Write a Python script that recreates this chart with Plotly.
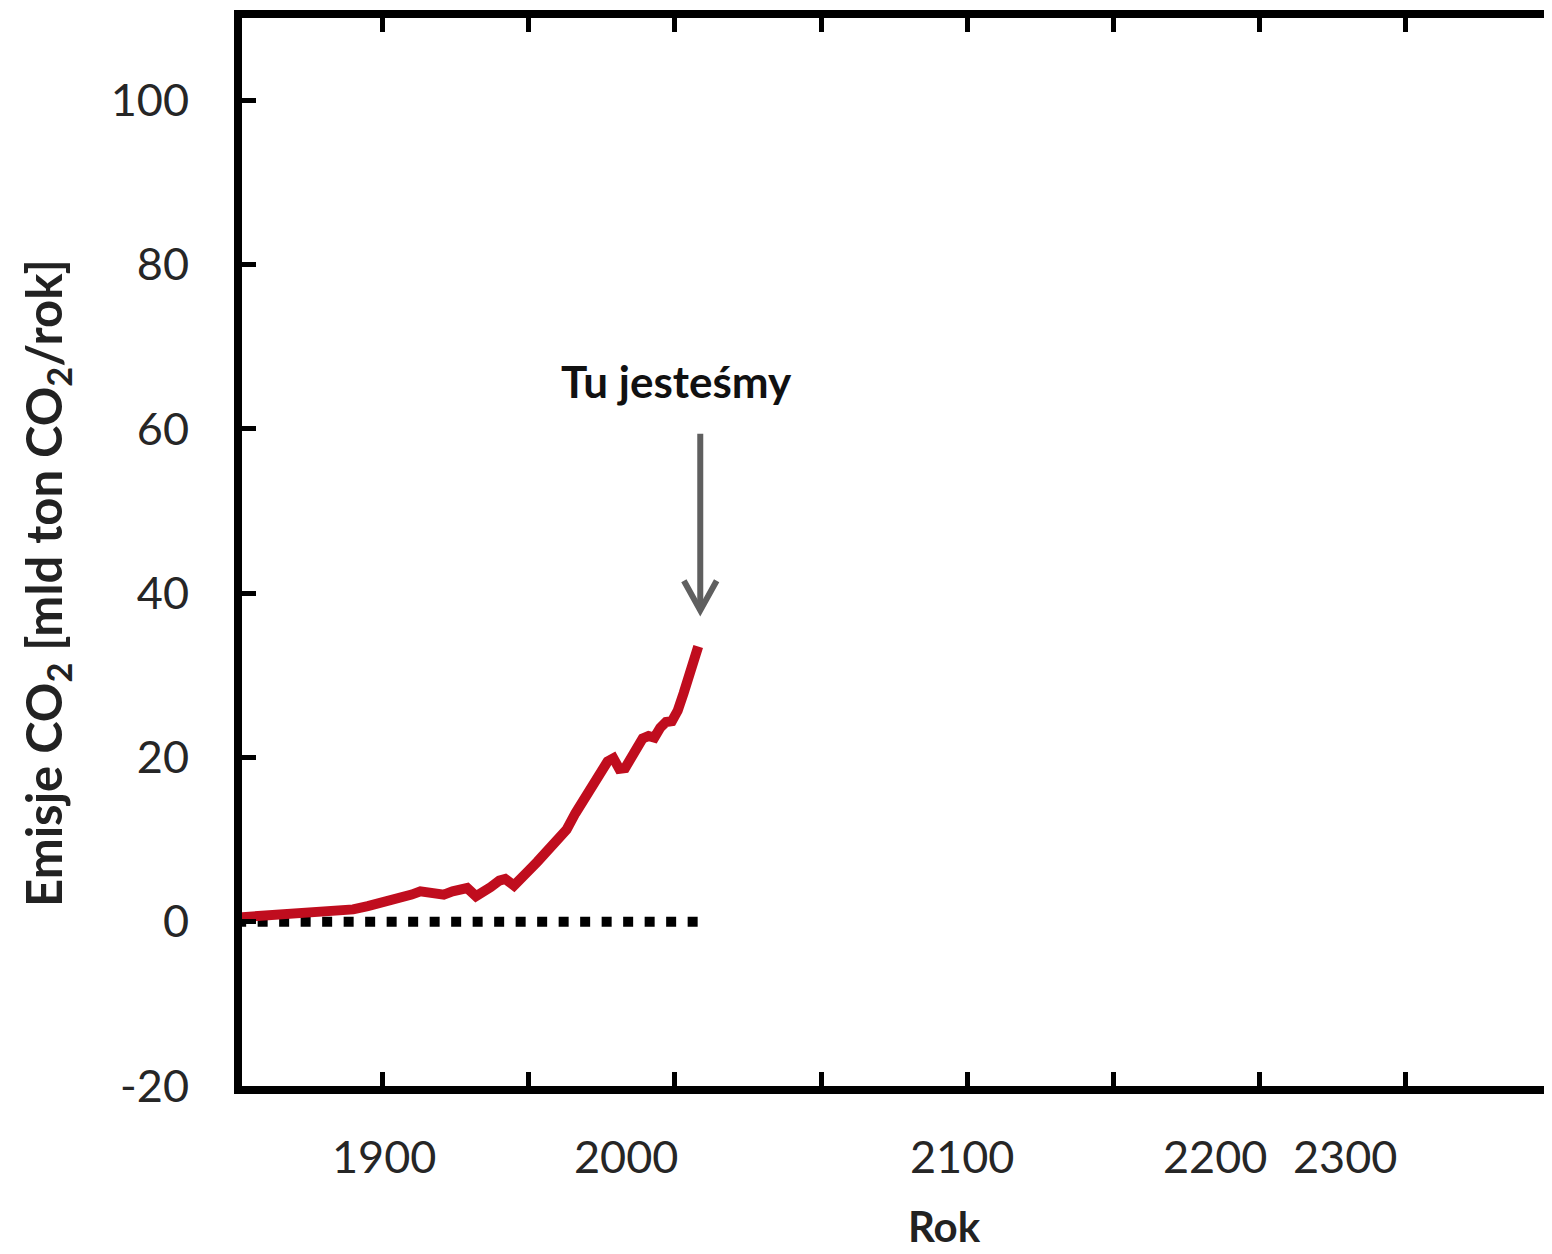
import plotly.graph_objects as go

# emissions curve (mld ton CO2 / rok)
years = [1850, 1855, 1860, 1865, 1870, 1875, 1880, 1885, 1890, 1895, 1900, 1905,
         1910, 1913, 1916, 1919, 1921, 1924, 1927, 1929, 1932, 1935, 1937, 1940,
         1942, 1945, 1947, 1950, 1953, 1957, 1960, 1963, 1966, 1968, 1970, 1973,
         1975, 1977, 1979, 1981, 1983, 1985, 1987, 1989, 1991, 1993, 1995, 1997,
         1999, 2001, 2003, 2005, 2007, 2008]
emissions = [0.5, 0.6, 0.7, 0.8, 0.9, 1.0, 1.2, 1.3, 1.5, 1.9, 2.3, 2.8,
             3.3, 3.7, 3.5, 3.4, 3.3, 3.7, 3.9, 4.1, 3.1, 3.6, 4.2, 5.0,
             5.2, 4.4, 5.3, 6.2, 7.3, 9.0, 10.2, 11.2, 13.2, 14.3, 15.8, 17.3,
             18.0, 19.5, 19.9, 18.6, 18.7, 20.0, 21.2, 22.3, 22.6, 22.4, 23.6, 24.3,
             24.4, 25.7, 27.8, 29.8, 32.2, 33.5]

# zero reference line
zero_years = [1850, 2008]
zero_vals = [0, 0]

# x labels as printed in the reference (they sit off the tick marks)
xlabel_text = ["1900", "2000", "2100", "2200", "2300"]
xlabel_pos = [1900.45, 1983.25, 2098.25, 2184.75, 2229.15]

y_ticks = [-20, 0, 20, 40, 60, 80, 100]
y_ticktext = ["-20", "0", "20", "40", "60", "80", "100"]

# "Tu jestesmy" arrow: tail and tip (year, value)
arrow_x = 2008.7
arrow_top = 59.4
arrow_tip = 37.9

fig = go.Figure()

fig.add_trace(go.Scatter(x=zero_years, y=zero_vals, mode="lines",
                         line=dict(color="black", width=10, dash="10px,11.5px"),
                         hoverinfo="skip"))
fig.add_trace(go.Scatter(x=years, y=emissions, mode="lines",
                         line=dict(color="#C00D1E", width=10),
                         hoverinfo="skip"))

# arrow shaft + open head
fig.add_shape(type="line", x0=arrow_x, x1=arrow_x, y0=arrow_top, y1=arrow_tip + 0.6,
              line=dict(color="#5F5F5F", width=6))
fig.add_shape(type="path",
              path=f"M {arrow_x - 5.6},{arrow_tip + 3.6} L {arrow_x},{arrow_tip} L {arrow_x + 5.6},{arrow_tip + 3.6}",
              line=dict(color="#5F5F5F", width=6))

# right frame only shows short stubs at the corners
fig.add_shape(type="line", xref="paper", x0=1, x1=1, y0=110, y1=106.8,
              line=dict(color="black", width=8))
fig.add_shape(type="line", xref="paper", x0=1, x1=1, y0=-20, y1=-16.1,
              line=dict(color="black", width=8))

fig.add_annotation(x=2000.5, y=65.8, text="<b>Tu jesteśmy</b>", showarrow=False,
                   font=dict(family="Lato", size=44, color="#111111"))

for txt, pos in zip(xlabel_text, xlabel_pos):
    fig.add_annotation(x=pos, y=0, xref="x", yref="paper", text=txt, showarrow=False,
                       yanchor="middle", yshift=-70,
                       font=dict(family="Lato", size=45, color="#262626"))

fig.add_annotation(x=2092.2, y=0, xref="x", yref="paper", text="<b>Rok</b>", showarrow=False,
                   yanchor="middle", yshift=-140,
                   font=dict(family="Lato", size=42, color="#222222"))

fig.add_annotation(x=0, y=0.5, xref="paper", yref="paper", xanchor="center", yanchor="middle",
                   text="<b>Emisje CO<sub>2</sub> [mld ton CO<sub>2</sub>/rok]</b>",
                   textangle=-90, showarrow=False, xshift=-196, yshift=-31,
                   font=dict(family="Lato", size=49, color="#222222"))

fig.update_layout(
    width=1552, height=1254,
    margin=dict(l=234, r=2, t=6, b=176),
    paper_bgcolor="white", plot_bgcolor="white",
    showlegend=False,
    font=dict(family="Lato", size=45, color="#262626"),
)

fig.update_xaxes(range=[1852, 2302], tickvals=[1900, 1950, 2000, 2050, 2100, 2150, 2200, 2250],
                 showticklabels=False, ticks="inside", ticklen=14, tickwidth=5, tickcolor="black",
                 showline=True, linewidth=8, linecolor="black", mirror="ticks",
                 showgrid=False, zeroline=False)
fig.update_yaxes(range=[-20, 110], tickvals=y_ticks, ticktext=y_ticktext,
                 ticks="inside", ticklen=14, tickwidth=5,
                 tickcolor="black", ticklabelstandoff=36,
                 showline=True, linewidth=8, linecolor="black", mirror=False,
                 showgrid=False, zeroline=False,
                 tickfont=dict(family="Lato", size=45, color="#262626"))

fig.write_html("out.html")
